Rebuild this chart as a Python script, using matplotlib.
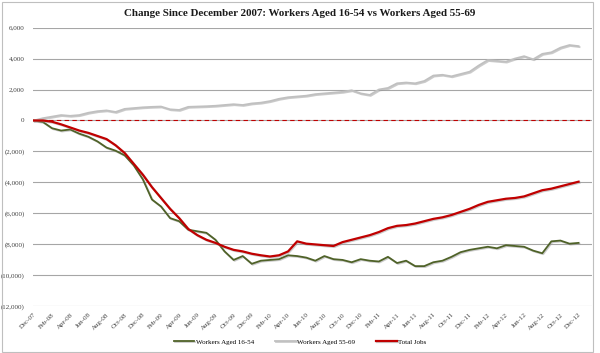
import matplotlib
matplotlib.use("Agg")
import matplotlib.pyplot as plt
import matplotlib.patheffects as pe
from matplotlib.patches import Rectangle
from matplotlib.ticker import FuncFormatter

# monthly, Dec-07 .. Dec-12 (thousands)
months = ["Dec-07", "Jan-08", "Feb-08", "Mar-08", "Apr-08", "May-08", "Jun-08", "Jul-08",
          "Aug-08", "Sep-08", "Oct-08", "Nov-08", "Dec-08", "Jan-09", "Feb-09", "Mar-09",
          "Apr-09", "May-09", "Jun-09", "Jul-09", "Aug-09", "Sep-09", "Oct-09", "Nov-09",
          "Dec-09", "Jan-10", "Feb-10", "Mar-10", "Apr-10", "May-10", "Jun-10", "Jul-10",
          "Aug-10", "Sep-10", "Oct-10", "Nov-10", "Dec-10", "Jan-11", "Feb-11", "Mar-11",
          "Apr-11", "May-11", "Jun-11", "Jul-11", "Aug-11", "Sep-11", "Oct-11", "Nov-11",
          "Dec-11", "Jan-12", "Feb-12", "Mar-12", "Apr-12", "May-12", "Jun-12", "Jul-12",
          "Aug-12", "Sep-12", "Oct-12", "Nov-12", "Dec-12"]

aged_16_54 = [0, -100, -500, -650, -580, -850, -1050, -1350, -1750, -1950, -2250, -2900,
              -3800, -5100, -5550, -6300, -6500, -7050, -7150, -7250, -7700, -8450, -9000,
              -8750, -9250, -9050, -9000, -8950, -8700, -8750, -8850, -9050, -8750, -8950,
              -9000, -9150, -8950, -9050, -9100, -8800, -9200, -9050, -9400, -9400, -9150,
              -9050, -8800, -8500, -8350, -8250, -8150, -8250, -8050, -8100, -8150, -8400,
              -8570, -7800, -7750, -7950, -7900]

aged_55_69 = [0, 150, 250, 350, 300, 350, 500, 600, 650, 550, 750, 800, 850, 880, 900,
              720, 680, 880, 900, 920, 950, 1000, 1050, 1000, 1100, 1150, 1250, 1400, 1500,
              1550, 1600, 1700, 1750, 1800, 1850, 1950, 1750, 1650, 2000, 2100, 2400, 2450,
              2400, 2550, 2900, 2950, 2850, 3000, 3150, 3550, 3900, 3850, 3800, 4000, 4150,
              3950, 4300, 4400, 4700, 4870, 4800]

total_jobs = [0, 0, -80, -250, -450, -650, -800, -1000, -1200, -1600, -2100, -2800, -3500,
              -4300, -5000, -5700, -6300, -7000, -7400, -7700, -7900, -8150, -8350, -8450,
              -8600, -8700, -8780, -8700, -8450, -7800, -7950, -8000, -8050, -8100, -7850,
              -7700, -7550, -7400, -7200, -6950, -6800, -6750, -6650, -6500, -6350, -6250,
              -6100, -5900, -5700, -5450, -5250, -5150, -5050, -5000, -4900, -4700, -4500,
              -4400, -4250, -4100, -3950]

serif = "Liberation Serif"
x = list(range(len(months)))

fig = plt.figure(figsize=(6, 3.53), dpi=100)
ax = fig.add_axes([0.055, 0.132, 0.932, 0.79])

shadow = [pe.SimpleLineShadow(offset=(0.7, -0.7), shadow_color="#999999", alpha=0.5), pe.Normal()]

ax.plot(x, aged_16_54, color="#4f6228", lw=1.3, label="Workers Aged 16-54", path_effects=shadow)
ax.plot(x, aged_55_69, color="#c0c0c0", lw=1.3, label="Workers Aged 55-69", path_effects=shadow)
ax.plot(x, total_jobs, color="#c00000", lw=1.6, label="Total Jobs", path_effects=shadow)
ax.axhline(0, color="#c00000", lw=0.8, ls=(0, (4, 3)), zorder=1)

ax.set_ylim(-12000, 6000)
ax.set_xlim(-0.1, 61.5)
ax.set_yticks(range(-12000, 6001, 2000))
ax.yaxis.set_major_formatter(FuncFormatter(
    lambda v, p: "0" if v == 0 else (f"{v:,.0f}" if v > 0 else f"({-v:,.0f})")))
ax.grid(axis="y", color="#a6a6a6", lw=0.8)
ax.set_axisbelow(True)

ax.set_xticks(x[::2])
ax.set_xticklabels(months[::2], rotation=45, ha="right", va="top", rotation_mode="anchor")
ax.tick_params(length=0, labelsize=5, colors="#404040")
ax.tick_params(axis="y", pad=6)
ax.tick_params(axis="x", pad=4)
for lab in ax.get_xticklabels() + ax.get_yticklabels():
    lab.set_family(serif)
for s in ax.spines.values():
    s.set_visible(False)

fig.text(0.5, 0.963, "Change Since December 2007: Workers Aged 16-54 vs Workers Aged 55-69",
         ha="center", va="center", fontsize=7.9, fontweight="bold", family=serif, color="#1a1a1a")

fig.legend(loc="center", bbox_to_anchor=(0.5, 0.032), ncol=3, frameon=False,
           prop={"family": serif, "size": 5}, handlelength=3.0, handletextpad=0.2,
           columnspacing=3.0)

fig.patches.append(Rectangle((0.004, 0.004), 0.985, 0.99, transform=fig.transFigure,
                             fill=False, edgecolor="#bfbfbf", lw=0.8))

fig.savefig("out.png", dpi=100)
